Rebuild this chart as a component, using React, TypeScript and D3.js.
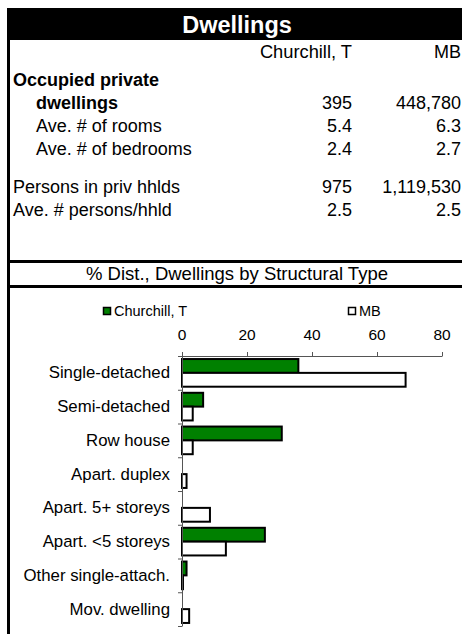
import React from "react";
import * as d3 from "d3";

const categories = [
  "Single-detached",
  "Semi-detached",
  "Row house",
  "Apart. duplex",
  "Apart. 5+ storeys",
  "Apart. <5 storeys",
  "Other single-attach.",
  "Mov. dwelling",
];
const churchillValues = [35.8, 6.5, 30.7, 0, 0, 25.5, 1.4, 0];
const mbValues = [68.8, 3.3, 3.3, 1.4, 8.6, 13.5, 0.3, 2.2];
const xTicks = [0, 20, 40, 60, 80];
const seriesNames = ["Churchill, T", "MB"];
const seriesColors = ["#008000", "#ffffff"];

const tableRows = [
  { label: "Occupied private", a: "", b: "", bold: true, indent: false },
  { label: "dwellings", a: "395", b: "448,780", bold: true, indent: true },
  { label: "Ave. # of rooms", a: "5.4", b: "6.3", bold: false, indent: true },
  { label: "Ave. # of bedrooms", a: "2.4", b: "2.7", bold: false, indent: true },
  { label: "Persons in priv hhlds", a: "975", b: "1,119,530", bold: false, indent: false },
  { label: "Ave. # persons/hhld", a: "2.5", b: "2.5", bold: false, indent: false },
];
const rowBaselines = [86, 109, 132, 155, 193, 216];

const FONT = "Arial, 'Liberation Sans', Helvetica, sans-serif";

export default function App() {
  const W = 462;
  const H = 634;
  const x = d3.scaleLinear().domain([0, 80]).range([182, 442]);
  const y = d3.scaleBand<string>().domain(categories).range([356, 626]).padding(0);
  const inner = d3
    .scaleBand<number>()
    .domain([0, 1])
    .range([0, y.bandwidth()])
    .paddingInner(0)
    .paddingOuter(0.22);
  const series = [churchillValues, mbValues];
  const boundaries = d3.range(categories.length + 1).map((i) => 356 + i * y.step());

  return (
    <svg
      width={W}
      height={H}
      style={{ position: "absolute", left: 0, top: 0, display: "block" }}
      fontFamily={FONT}
    >
      <rect x={0} y={0} width={W} height={H} fill="#fff" />
      {/* header band */}
      <rect x={7} y={8} width={W - 7} height={32} fill="#000" />
      <text x={237} y={33} textAnchor="middle" fill="#fff" fontWeight="bold" fontSize={23.5}>
        Dwellings
      </text>
      {/* left border */}
      <rect x={7} y={8} width={3} height={H - 8} fill="#000" />
      {/* column headers */}
      <text x={352} y={58} textAnchor="end" fontSize={18.3}>
        Churchill, T
      </text>
      <text x={461} y={58} textAnchor="end" fontSize={18}>
        MB
      </text>
      {tableRows.map((r, i) => (
        <g key={i} fontSize={18} fontWeight={r.bold ? "bold" : "normal"}>
          <text x={r.indent ? 36 : 13} y={rowBaselines[i]}>
            {r.label}
          </text>
          <text x={352} y={rowBaselines[i]} textAnchor="end" fontWeight="normal">
            {r.a}
          </text>
          <text x={461} y={rowBaselines[i]} textAnchor="end" fontWeight="normal">
            {r.b}
          </text>
        </g>
      ))}
      {/* separator lines */}
      <rect x={10} y={260} width={W - 10} height={3} fill="#000" />
      <rect x={10} y={285} width={W - 10} height={3} fill="#000" />
      <text x={237} y={280} textAnchor="middle" fontSize={18.5}>
        % Dist., Dwellings by Structural Type
      </text>
      {/* legend */}
      <rect x={103.5} y={307.5} width={7} height={7} fill={seriesColors[0]} stroke="#000" strokeWidth={1.5} />
      <text x={114} y={316} fontSize={14.5}>
        {seriesNames[0]}
      </text>
      <rect x={348.5} y={307.5} width={7} height={7} fill={seriesColors[1]} stroke="#000" strokeWidth={1.5} />
      <text x={359} y={316} fontSize={14.5}>
        {seriesNames[1]}
      </text>
      {/* x axis (top) */}
      <line x1={x(0)} x2={x(80)} y1={356.5} y2={356.5} stroke="#555" strokeWidth={1} />
      {xTicks.map((t) => (
        <g key={t}>
          <line x1={x(t) + 0.5} x2={x(t) + 0.5} y1={352} y2={356.5} stroke="#555" />
          <text x={x(t)} y={340} textAnchor="middle" fontSize={15.5}>
            {t}
          </text>
        </g>
      ))}
      {/* bars */}
      {categories.map((c, ci) =>
        series.map((vals, si) => {
          const v = vals[ci];
          if (v <= 0) return null;
          const yy = (y(c) as number) + (inner(si) as number);
          return (
            <rect
              key={c + si}
              x={x(0)}
              y={yy}
              width={x(v) - x(0)}
              height={inner.bandwidth()}
              fill={seriesColors[si]}
              stroke="#000"
              strokeWidth={2}
            />
          );
        })
      )}
      {/* y axis */}
      <line x1={182.5} x2={182.5} y1={356} y2={626} stroke="#555" strokeWidth={1} />
      {boundaries.map((b, i) => (
        <line key={i} x1={178} x2={182.5} y1={b + 0.5} y2={b + 0.5} stroke="#555" />
      ))}
      {categories.map((c) => (
        <text
          key={c}
          x={170}
          y={(y(c) as number) + y.bandwidth() / 2 + 5.5}
          textAnchor="end"
          fontSize={16.8}
        >
          {c}
        </text>
      ))}
    </svg>
  );
}
